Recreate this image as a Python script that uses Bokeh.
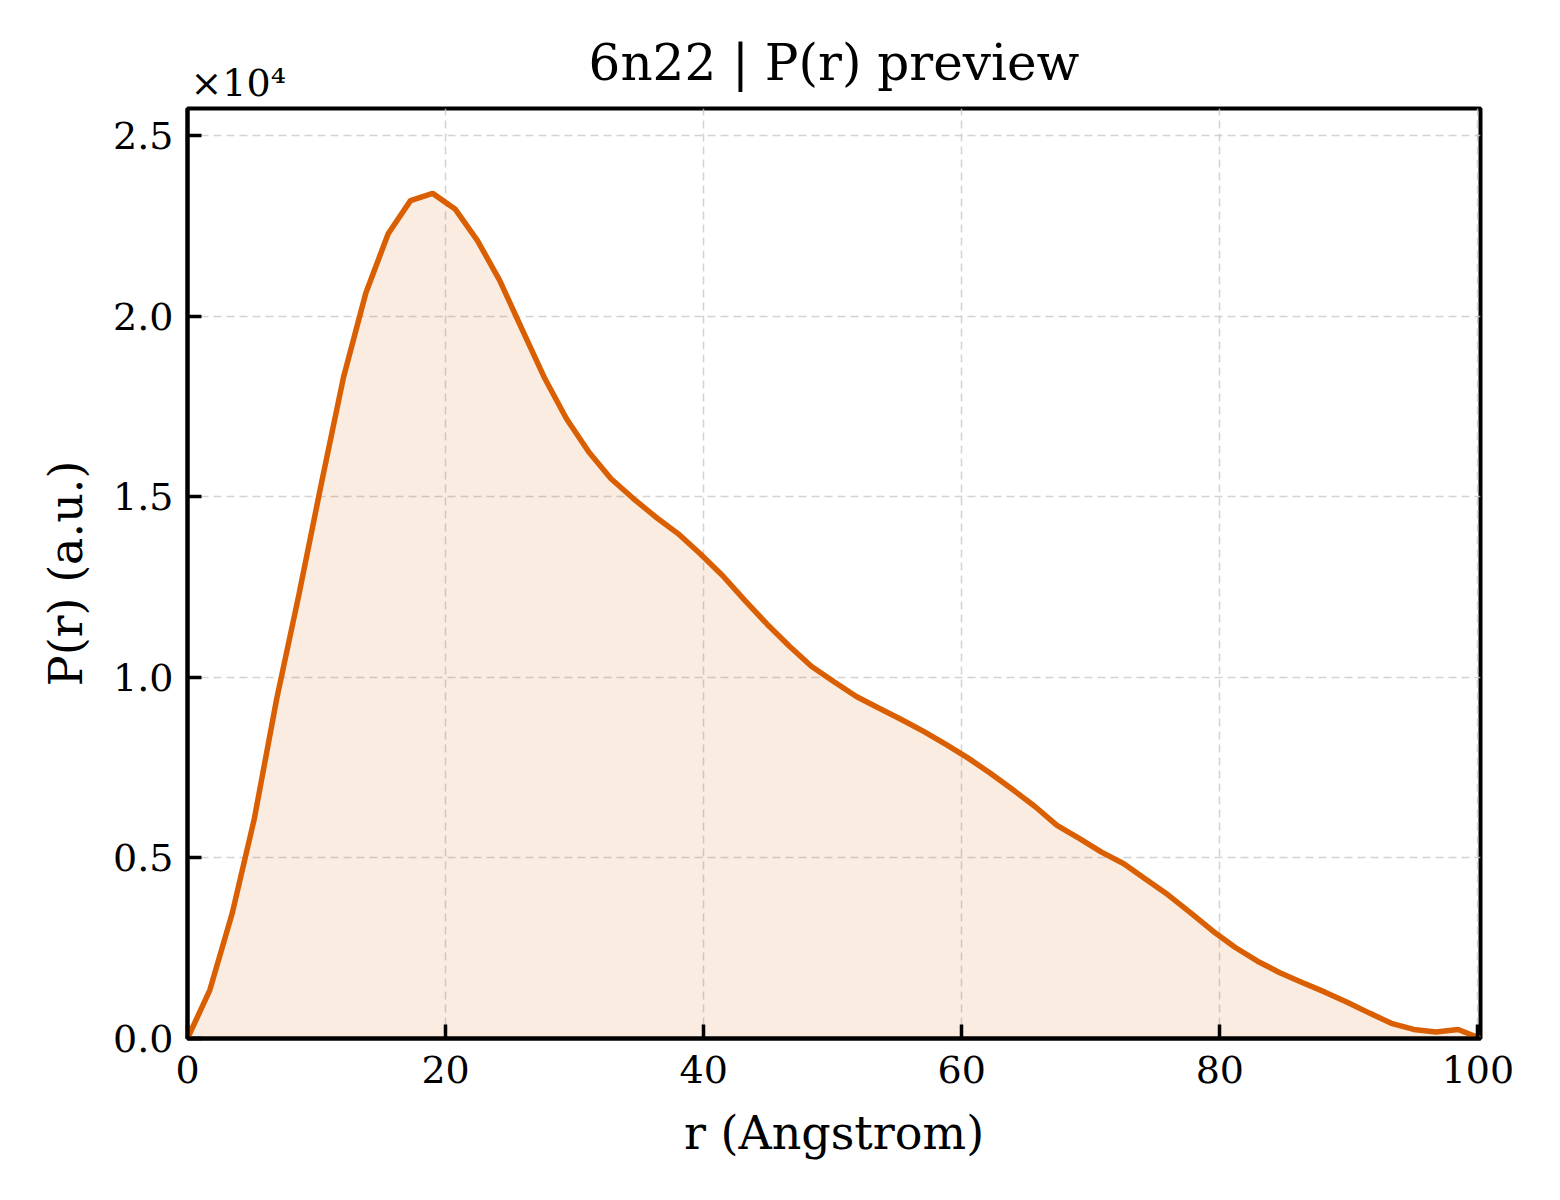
from bokeh.plotting import figure
from bokeh.models import ColumnDataSource, FixedTicker, Range1d, Title
from bokeh.embed import file_html
from bokeh.resources import INLINE

# P(r) samples (r in Angstrom, P in a.u.)
r_vals = [0.00, 1.73, 3.46, 5.18, 6.91, 8.64, 10.37, 12.09, 13.82, 15.55,
          17.28, 19.00, 20.73, 22.46, 24.19, 25.91, 27.64, 29.37, 31.10, 32.82,
          34.55, 36.28, 38.01, 39.73, 41.46, 43.19, 44.92, 46.65, 48.37, 50.10,
          51.83, 53.56, 55.28, 57.01, 58.74, 60.47, 62.19, 63.92, 65.65, 67.38,
          69.10, 70.83, 72.56, 74.29, 76.01, 77.74, 79.47, 81.20, 82.92, 84.65,
          86.38, 88.11, 89.83, 91.56, 93.29, 95.02, 96.74, 98.47, 100.20]
pr_vals = [0, 1340, 3460, 6090, 9400, 12300, 15360, 18310, 20640, 22280,
           23200, 23400, 22970, 22100, 20990, 19650, 18310, 17160, 16240, 15500,
           14950, 14440, 13980, 13420, 12820, 12130, 11470, 10860, 10300, 9880,
           9470, 9150, 8840, 8510, 8150, 7770, 7350, 6900, 6430, 5900,
           5540, 5160, 4840, 4400, 3970, 3480, 2970, 2520, 2140, 1820,
           1550, 1290, 1010, 710, 420, 250, 180, 250, 0]

x_ticks = [0, 20, 40, 60, 80, 100]
y_ticks = [0, 5000, 10000, 15000, 20000, 25000]
y_tick_labels = ["0.0", "0.5", "1.0", "1.5", "2.0", "2.5"]

FONT = "DejaVu Serif"
line_color = "#d95f02"

source = ColumnDataSource(dict(r=r_vals, pr=pr_vals))

p = figure(
    width=1552,
    height=1192,
    output_backend="svg",
    toolbar_location=None,
    x_range=Range1d(0, 100.2),
    y_range=Range1d(0, 25750),
    min_border_left=187,
    min_border_right=72,
    min_border_top=108,
    min_border_bottom=154,
)

p.varea(x="r", y1=0, y2="pr", source=source, fill_color=line_color, fill_alpha=0.12)
p.line(x="r", y="pr", source=source, line_color=line_color, line_width=5.5)

# offset text of the y axis (closest to the frame), then the main title
p.add_layout(Title(text="×10⁴", align="left", offset=3, standoff=8,
                   text_font=FONT, text_font_size="38px",
                   text_font_style="normal", text_color="black"), "above")
p.add_layout(Title(text="6n22 | P(r) preview", align="center", standoff=-75,
                   text_font=FONT, text_font_size="50px",
                   text_font_style="normal", text_color="black"), "above")

# axes
p.xaxis.axis_label = "r (Angstrom)"
p.yaxis.axis_label = "P(r) (a.u.)"
p.xaxis.ticker = FixedTicker(ticks=x_ticks)
p.yaxis.ticker = FixedTicker(ticks=y_ticks)
p.yaxis.major_label_overrides = dict(zip(y_ticks, y_tick_labels))

for ax in (p.xaxis, p.yaxis):
    ax.axis_label_text_font = FONT
    ax.axis_label_text_font_size = "46px"
    ax.axis_label_text_font_style = "normal"
    ax.axis_label_text_color = "black"
    ax.major_label_text_font = FONT
    ax.major_label_text_font_size = "38px"
    ax.major_label_text_color = "black"
    ax.axis_line_color = "black"
    ax.axis_line_width = 4
    ax.major_tick_line_color = "black"
    ax.major_tick_line_width = 3.5
    ax.major_tick_in = 14
    ax.major_tick_out = 0
    ax.minor_tick_line_color = None

p.xaxis.major_label_standoff = 17
p.yaxis.major_label_standoff = 14
p.xaxis.axis_label_standoff = 20
p.yaxis.axis_label_standoff = 17

p.outline_line_color = "black"
p.outline_line_width = 4
p.outline_line_alpha = 1

p.grid.grid_line_color = "#c8c8c8"
p.grid.grid_line_width = 1.5
p.grid.grid_line_dash = "8 5"
p.grid.grid_line_alpha = 0.8

open("out.html", "w").write(file_html(p, INLINE))
